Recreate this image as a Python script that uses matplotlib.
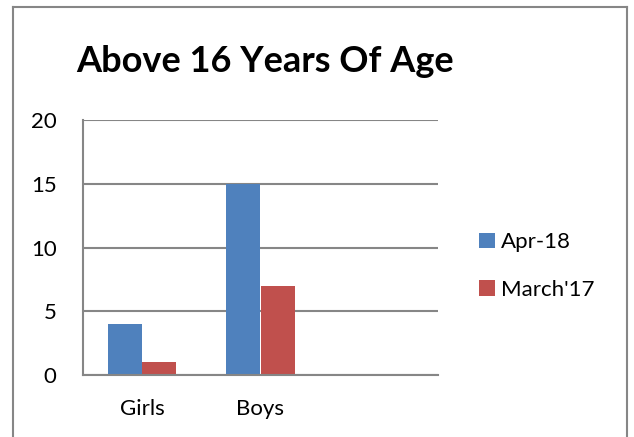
import numpy as np
import matplotlib
matplotlib.use("Agg")
import matplotlib.pyplot as plt
from matplotlib.lines import Line2D

plt.rcParams['font.family'] = ['Lato', 'DejaVu Sans']

#Data
categories = ['Girls', 'Boys', '']
apr18 = [4, 15, np.nan]
march17 = [1, 7, np.nan]
series_names = ['Apr-18', "March'17"]
yticks = [0, 5, 10, 15, 20]

W, H = 634, 437
fig = plt.figure(figsize=(W/100, H/100), dpi=100)

#chart border (left, top, right only - bottom is cut off)
bc = '#868686'
fig.add_artist(Line2D([13/W, 13/W], [0, 1 - 7/H], color=bc, lw=1.5, transform=fig.transFigure))
fig.add_artist(Line2D([13/W, 627/W], [1 - 7/H, 1 - 7/H], color=bc, lw=1.5, transform=fig.transFigure))
fig.add_artist(Line2D([627/W, 627/W], [0, 1 - 7/H], color=bc, lw=1.5, transform=fig.transFigure))

ax = fig.add_axes([83/W, (H - 375)/H, 355/W, 255/H])

x = np.arange(len(categories))
width = 0.2875
ax.bar(x - width/2, apr18, width, color='#4F81BD', label=series_names[0])
ax.bar(x + width/2, march17, width, color='#C0504D', label=series_names[1])

ax.set_xlim(-0.5, len(categories) - 0.5)
ax.set_ylim(0, 20)
ax.set_yticks(yticks)
ax.set_xticks(x)
ax.set_xticklabels(categories)
ax.tick_params(axis='both', length=0, labelsize=16, colors='black')
ax.tick_params(axis='y', pad=19)
ax.tick_params(axis='x', pad=17)

ax.yaxis.grid(True, color=bc, lw=1.5)
ax.set_axisbelow(True)
for s in ['top', 'right']:
  ax.spines[s].set_visible(False)
ax.spines['left'].set_color(bc)
ax.spines['bottom'].set_color(bc)
ax.spines['left'].set_linewidth(1.5)
ax.spines['bottom'].set_linewidth(1.5)

fig.text(265/W, 1 - 62/H, 'Above 16 Years Of Age', ha='center', va='center',
         fontsize=26, fontweight='bold')

ax.legend(loc='center left', bbox_to_anchor=(468/W, 1 - 266/H), bbox_transform=fig.transFigure,
          frameon=False, fontsize=16, handlelength=0.7, handleheight=0.7,
          handletextpad=0.3, labelspacing=1.25, borderpad=0)

fig.savefig('out.png', dpi=100)
